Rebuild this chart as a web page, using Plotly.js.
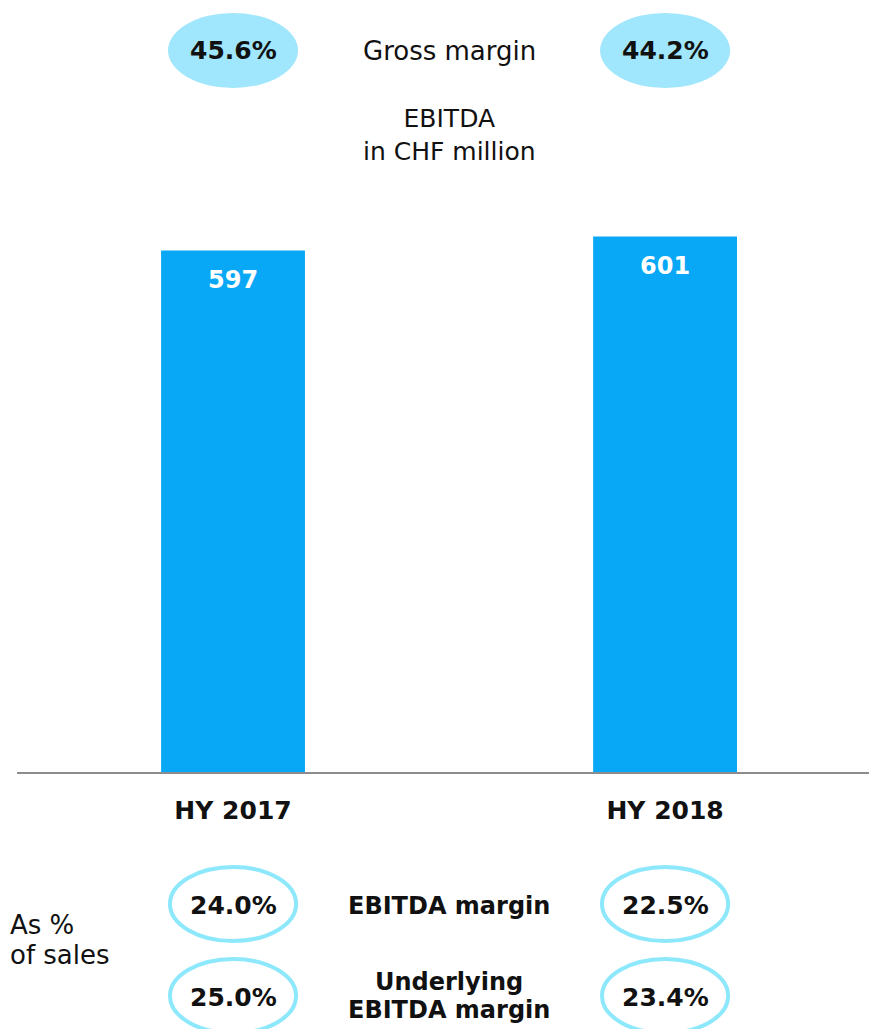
<!DOCTYPE html>
<html>
<head>
<meta charset="utf-8">
<script src="https://cdn.plot.ly/plotly-3.0.1.min.js"></script>
<style>html,body{margin:0;padding:0;background:#fff;}#chart{width:869px;height:1029px;}</style>
</head>
<body>
<div id="chart"></div>
<script>
// Data
const periods = ["HY 2017", "HY 2018"];
const ebitda = [597, 601];
const grossMargin = ["45.6%", "44.2%"];
const ebitdaMargin = ["24.0%", "22.5%"];
const underlyingMargin = ["25.0%", "23.4%"];

const FONT = "DejaVu Sans, Verdana, sans-serif";
const barColor = "#08a8f6";
const fillEllipse = "#a0e6fc";
const ringColor = "#8de8fb";

// y-position helper: paper coords for pixel rows (plot area 180..772)
const py = p => (772 - p) / 592;

const shapes = [];
const annotations = [];

periods.forEach((p, i) => {
  shapes.push({type: "circle", xref: "x", yref: "paper", x0: i - 0.1505, x1: i + 0.1505,
    y0: py(88), y1: py(13), fillcolor: fillEllipse, line: {width: 0}, layer: "above"});
  annotations.push({xref: "x", yref: "paper", x: i, y: py(50), text: "<b>" + grossMargin[i] + "</b>",
    showarrow: false, font: {family: FONT, size: 25, color: "#111"}, xanchor: "center", yanchor: "middle"});
  shapes.push({type: "circle", xref: "x", yref: "paper", x0: i - 0.146, x1: i + 0.146,
    y0: py(941), y1: py(867), fillcolor: "rgba(0,0,0,0)", line: {width: 4, color: ringColor}});
  shapes.push({type: "circle", xref: "x", yref: "paper", x0: i - 0.146, x1: i + 0.146,
    y0: py(1033), y1: py(959), fillcolor: "rgba(0,0,0,0)", line: {width: 4, color: ringColor}});
  annotations.push({xref: "x", yref: "paper", x: i, y: py(905), text: "<b>" + ebitdaMargin[i] + "</b>",
    showarrow: false, font: {family: FONT, size: 25, color: "#111"}, xanchor: "center", yanchor: "middle"});
  annotations.push({xref: "x", yref: "paper", x: i, y: py(997), text: "<b>" + underlyingMargin[i] + "</b>",
    showarrow: false, font: {family: FONT, size: 25, color: "#111"}, xanchor: "center", yanchor: "middle"});
  annotations.push({xref: "x", yref: "y", x: i, y: ebitda[i], yshift: -29, text: "<b>" + ebitda[i] + "</b>",
    showarrow: false, font: {family: FONT, size: 24, color: "#ffffff"}, xanchor: "center", yanchor: "middle"});
});

const midText = (txt, y, bold, size) => annotations.push({xref: "x", yref: "paper", x: 0.5, y: py(y),
  text: bold ? "<b>" + txt + "</b>" : txt, showarrow: false,
  font: {family: FONT, size: size, color: "#111"}, xanchor: "center", yanchor: "middle"});
midText("Gross margin", 51, false, 26);
midText("EBITDA<br>in CHF million", 135, false, 25);
midText("EBITDA margin", 906, true, 24);
midText("Underlying", 982, true, 24);
midText("EBITDA margin", 1010, true, 24);

annotations.push({xref: "paper", yref: "paper", x: (8 - 17) / 852, y: py(925), text: "As %",
  showarrow: false, font: {family: FONT, size: 26, color: "#111"}, xanchor: "left", yanchor: "middle"});
annotations.push({xref: "paper", yref: "paper", x: (8 - 17) / 852, y: py(955), text: "of sales",
  showarrow: false, font: {family: FONT, size: 26, color: "#111"}, xanchor: "left", yanchor: "middle"});

const trace = {type: "bar", x: [0, 1], y: ebitda, width: 0.333,
  marker: {color: barColor, line: {width: 0}}, hoverinfo: "skip", cliponaxis: true};

const layout = {
  width: 869, height: 1029,
  margin: {l: 17, r: 0, t: 180, b: 257},
  paper_bgcolor: "#ffffff", plot_bgcolor: "#ffffff",
  showlegend: false,
  font: {family: FONT, color: "#111"},
  xaxis: {range: [-0.5, 1.472], tickvals: [0, 1], ticktext: periods.map(s => "<b>" + s + "</b>"),
    tickfont: {family: FONT, size: 25, color: "#111"}, showgrid: false, zeroline: false,
    showline: true, linecolor: "#8c8c8c", linewidth: 2, ticks: "", ticklabelstandoff: 15, fixedrange: true},
  yaxis: {range: [448, 448 + 592 / 3.5], visible: false, showgrid: false, zeroline: false, fixedrange: true},
  shapes: shapes,
  annotations: annotations
};

Plotly.newPlot("chart", [trace], layout, {staticPlot: true, displayModeBar: false});
</script>
</body>
</html>
